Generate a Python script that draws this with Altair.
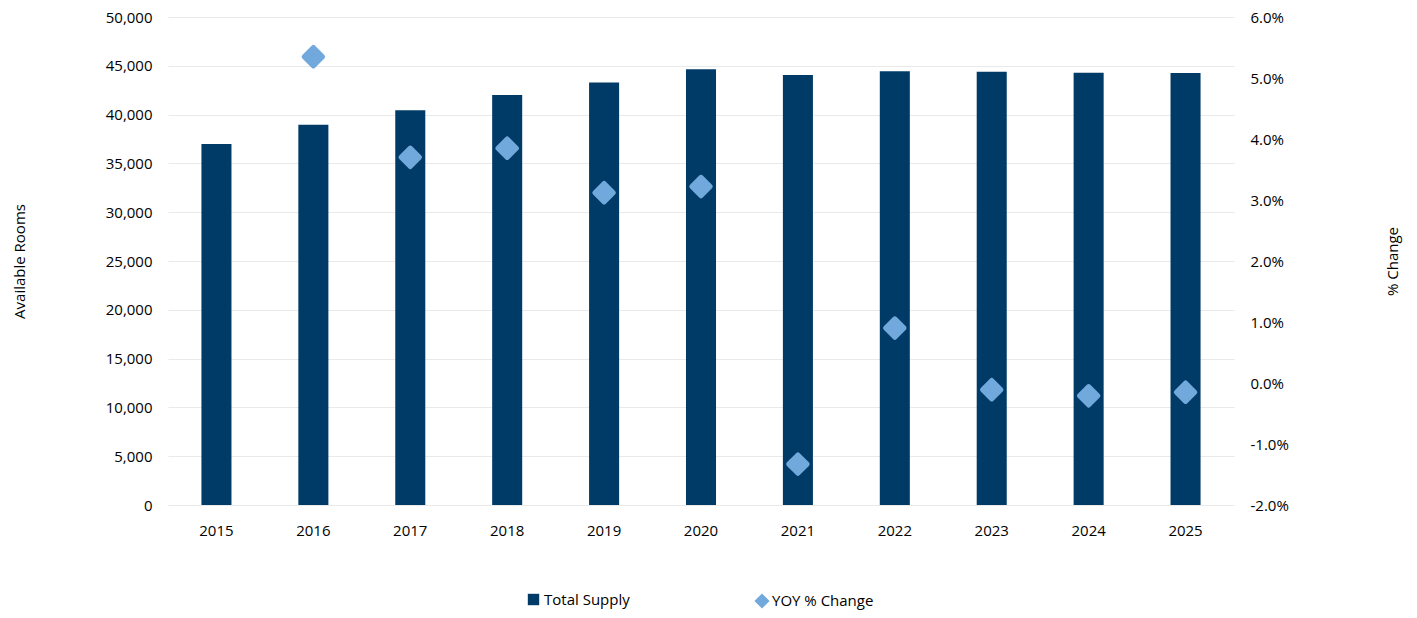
import altair as alt
import pandas as pd

years = ["2015", "2016", "2017", "2018", "2019", "2020", "2021", "2022", "2023", "2024", "2025"]
supply = [37000, 38950, 40450, 42000, 43300, 44650, 44050, 44450, 44400, 44300, 44250]
yoy = [None, 0.0535, 0.0370, 0.0385, 0.0312, 0.0322, -0.0133, 0.0090, -0.0011, -0.0021, -0.0015]
left_ticks = [0, 5000, 10000, 15000, 20000, 25000, 30000, 35000, 40000, 45000, 50000]
right_ticks = [-0.02, -0.01, 0.0, 0.01, 0.02, 0.03, 0.04, 0.05, 0.06]

df = pd.DataFrame({"year": years, "supply": supply, "yoy": yoy})
df["s_label"] = "Total Supply"
df["y_label"] = "YOY % Change"

FONT = "Open Sans"
DARK = "#003B68"
LIGHT = "#72A9DC"
W, H = 1066, 488

x_enc = alt.X("year:N", scale=alt.Scale(paddingInner=0.69, paddingOuter=0.345),
              axis=alt.Axis(title=None, labelAngle=0, ticks=False, domain=False,
                            labelPadding=18, grid=False))

bars = alt.Chart(df).mark_bar(color=DARK).encode(
    x=x_enc,
    y=alt.Y("supply:Q", scale=alt.Scale(domain=[0, 50000], nice=False),
            axis=alt.Axis(title="Available Rooms", values=left_ticks, format=",.0f",
                          ticks=False, domain=False, labelPadding=16,
                          gridColor="#E9E9E9", gridWidth=1.2,
                          titleAngle=-90, titleX=-149, titleY=H / 2,
                          titleAlign="center", titleBaseline="middle",
                          titleFontWeight="normal")),
    color=alt.Color("s_label:N", scale=alt.Scale(domain=["Total Supply"], range=[DARK]),
                    legend=alt.Legend(title=None, orient="none", legendX=358, legendY=575,
                                      symbolType="square", symbolSize=130,
                                      symbolStrokeWidth=0, labelOffset=3)),
)

points = alt.Chart(df).transform_filter("datum.yoy != null").mark_point(
    filled=True, shape="diamond", size=340, color=LIGHT, stroke=LIGHT,
    strokeWidth=5, strokeJoin="round", opacity=1
).encode(
    x=x_enc,
    y=alt.Y("yoy:Q", scale=alt.Scale(domain=[-0.02, 0.06], nice=False),
            axis=alt.Axis(title="% Change", orient="right", values=right_ticks,
                          labelExpr="replace(format(datum.value, '.1%'), '\u2212', '-')",
                          ticks=False, domain=False, grid=False, labelPadding=16,
                          titleAngle=-90, titleX=158, titleY=H / 2,
                          titleAlign="center", titleBaseline="middle",
                          titleFontWeight="normal")),
    shape=alt.Shape("y_label:N", scale=alt.Scale(domain=["YOY % Change"], range=["diamond"]),
                    legend=alt.Legend(title=None, orient="none", legendX=585, legendY=575,
                                      symbolFillColor=LIGHT, symbolStrokeColor=LIGHT,
                                      symbolSize=230, symbolStrokeWidth=2, labelOffset=1)),
)

chart = alt.layer(bars, points).resolve_scale(
    y="independent", color="independent", shape="independent"
).properties(
    width=W, height=H,
    autosize=alt.AutoSizeParams(type="none"),
    padding={"left": 160, "top": 9, "right": 175, "bottom": 105},
).configure_view(stroke=None).configure_axis(
    labelFont=FONT, titleFont=FONT, labelFontSize=15, titleFontSize=15,
    labelColor="#000000", titleColor="#000000",
).configure_legend(
    labelFont=FONT, labelFontSize=15, labelColor="#000000",
)

chart.save("out.html", embed_options={"renderer": "svg", "actions": False})
